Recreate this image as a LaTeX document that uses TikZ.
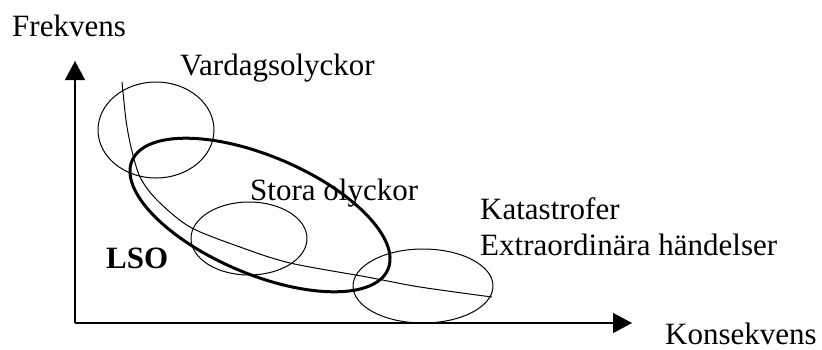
\documentclass[tikz,border=0pt]{standalone}
\usepackage{fontspec}
\setmainfont{Liberation Serif}
\usetikzlibrary{arrows.meta,shapes.geometric}

\begin{document}
\begin{tikzpicture}[x=1pt,y=-1pt,>={Triangle[length=19pt,width=20pt]},
		font=\fontsize{31}{37}\selectfont,
		text node/.style={anchor=base west,inner sep=0pt}, risk node/.style={ellipse,draw,line width=1pt,inner sep=0pt}]
		\useasboundingbox (0,0) rectangle (822,349);
		\coordinate (orig) at (75,323);
		\coordinate (ytop) at (75,61);
		\coordinate (xend) at (632,323);
		\path[->,line width=1.2pt]
		(orig) edge (ytop)
		(orig) edge (xend);
		\node[text node] (frek) at (12,36.5) {Frekvens};
		\node[text node] (kons) at (665,344) {Konsekvens};
		\node[risk node, minimum width=116pt, minimum height=96pt] (vard) at (156,130) {};
		\node[risk node, minimum width=116pt, minimum height=73pt] (stor) at (249,238.5) {};
		\node[risk node, minimum width=140pt, minimum height=74pt] (kat) at (423,286) {};
		\node[risk node, line width=3pt, minimum width=278pt, minimum height=118pt, rotate=-23] (lso) at (260,215) {};
		\draw[line width=1pt] plot[smooth] coordinates {(122,82) (126,120) (131,147) (140,177) (157,200) (190,227) (240,247) (290,263) (367,277) (420,287) (492,297)};
		\node[text node] (vardt) at (180,75) {Vardagsolyckor};
		\node[text node] (stort) at (250,200) {Stora olyckor};
		\node[text node] (katt) at (480,219) {Katastrofer};
		\node[text node] (extt) at (480,255) {Extraordinära händelser};
		\node[text node, font=\fontsize{31}{37}\selectfont\bfseries] (lsot) at (106,268) {LSO};
		\end{tikzpicture}
\end{document}
